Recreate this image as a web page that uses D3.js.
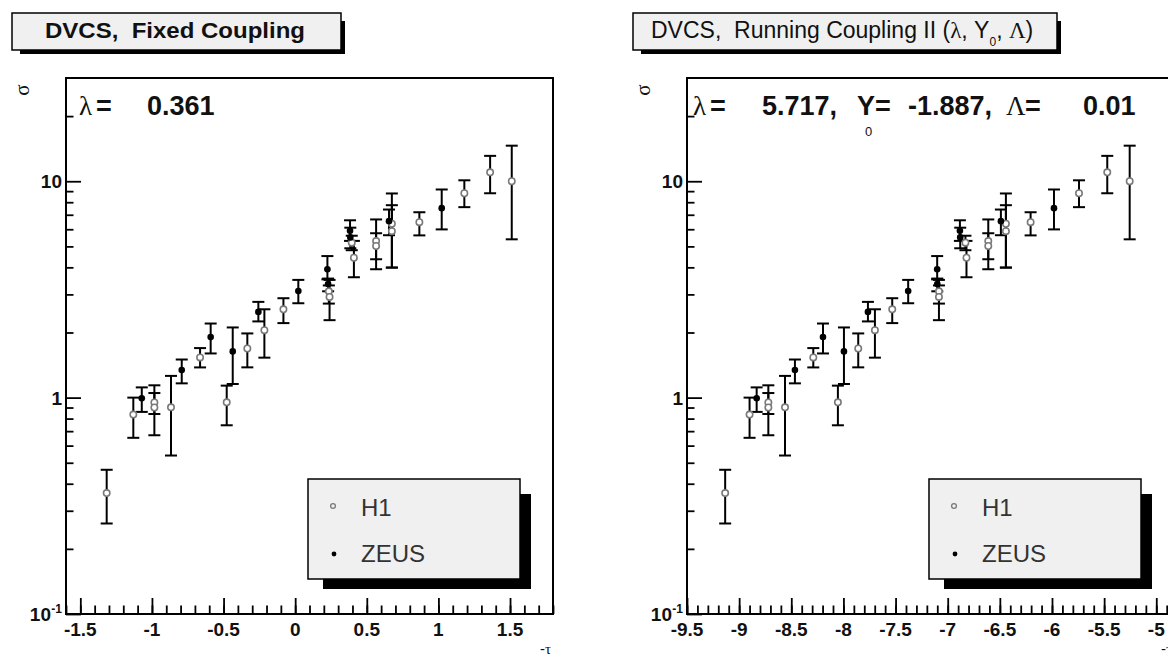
<!DOCTYPE html>
<html><head><meta charset="utf-8">
<script src="https://cdn.jsdelivr.net/npm/d3@7"></script>
<style>body{margin:0;background:#fff}svg{display:block}text{white-space:pre}</style>
</head><body>
<svg id="chart" width="1168" height="659"></svg>
<script>
// ---------- data ----------
const h1XFixed   = [-1.316,-1.13,-0.983,-0.983,-0.867,-0.664,-0.478,-0.334,-0.215,-0.082,0.235,0.24,0.395,0.41,0.565,0.565,0.675,0.675,0.867,1.181,1.361,1.512];
const h1XRunning = [-9.134,-8.90,-8.72,-8.72,-8.56,-8.289,-8.053,-7.858,-7.698,-7.532,-7.084,-7.084,-6.83,-6.82,-6.611,-6.611,-6.442,-6.442,-6.205,-5.741,-5.47,-5.255];
const h1Sigma    = [0.362,0.835,0.95,0.90,0.902,1.534,0.951,1.687,2.05,2.56,3.1,2.92,5.2,4.43,5.29,5.02,6.36,5.88,6.47,8.80,11.0,10.0];
const h1Low      = [0.262,0.652,0.84,0.67,0.54,1.379,0.745,1.38,1.53,2.21,2.72,2.28,4.8,3.6,4.36,3.92,3.99,3.99,5.62,7.59,8.8,5.39];
const h1High     = [0.464,1.0,1.14,1.05,1.26,1.694,1.136,1.98,2.56,2.88,3.3,3.5,5.6,5.3,5.75,6.66,8.78,7.75,7.19,10.1,13.1,14.6];

const zeusXFixed   = [-1.071,-0.792,-0.590,-0.436,-0.257,0.022,0.225,0.23,0.383,0.385,0.655,1.023];
const zeusXRunning = [-8.832,-8.465,-8.196,-7.995,-7.765,-7.379,-7.101,-7.10,-6.883,-6.88,-6.49,-5.981];
const zeusSigma    = [0.993,1.342,1.904,1.635,2.49,3.11,3.92,3.35,5.9,5.5,6.54,7.51];
const zeusLow      = [0.859,1.164,1.60,1.156,2.25,2.73,3.52,3.1,5.3,4.9,5.63,5.99];
const zeusHigh     = [1.115,1.50,2.20,2.11,2.77,3.5,4.51,3.55,6.6,6.1,7.4,9.16];

const yMajorTicks = [0.1, 1, 10];
const yTickBase   = ["10", "1", "10"];
const yTickExp    = ["-1", "", ""];
const xMajorFixed   = [-1.5,-1,-0.5,0,0.5,1,1.5];
const xMajorRunning = [-9.5,-9,-8.5,-8,-7.5,-7,-6.5,-6,-5.5,-5];
const legendLabels  = ["H1","ZEUS"];

// ---------- drawing ----------
const SANS = "'Liberation Sans', Arial, Helvetica, sans-serif";
const SERIF = "'Liberation Serif','DejaVu Serif',serif";
const svg = d3.select("#chart");
svg.append("rect").attr("width",1168).attr("height",659).attr("fill","#fff");

const panels = [
  {ox:0, xDomain:[-1.6,1.8], h1X:h1XFixed, zX:zeusXFixed, xMajor:xMajorFixed,
   titleW:329, kind:"fixed"},
  {ox:621, xDomain:[-9.5,-4.83], h1X:h1XRunning, zX:zeusXRunning, xMajor:xMajorRunning,
   titleW:424, kind:"running"}
];

panels.forEach(p => {
  const g = svg.append("g").attr("transform", `translate(${p.ox},0)`);
  const L = 66, T = 78, R = 553, B = 614;
  const x = d3.scaleLinear().domain(p.xDomain).range([L, R]);
  const y = d3.scaleLog().domain([0.1, 30]).range([B, T]);

  // title pave with shadow
  const tx = 12, ty = 13, th = 37;
  g.append("rect").attr("x", tx+8).attr("y", ty+8).attr("width", p.titleW-4).attr("height", th-4).attr("fill","#000");
  g.append("rect").attr("x", tx).attr("y", ty).attr("width", p.titleW).attr("height", th)
    .attr("fill","#f0f0f0").attr("stroke","#000").attr("stroke-width",1.5);
  if (p.kind === "fixed") {
    g.append("text").attr("x", 45).attr("y", 38).attr("font-family", SANS).attr("font-weight","bold")
      .attr("font-size", 22).attr("fill","#111").attr("textLength", 260).attr("lengthAdjust","spacingAndGlyphs")
      .text("DVCS,\u00a0 Fixed Coupling");
  } else {
    const t = g.append("text").attr("x", 30).attr("y", 38).attr("font-family", SANS)
      .attr("font-size", 23).attr("fill","#111");
    t.append("tspan").text("DVCS,\u00a0 Running Coupling II (");
    t.append("tspan").attr("font-family", SERIF).text("λ");
    t.append("tspan").text(",\u00a0Y");
    t.append("tspan").attr("font-size", 12).attr("dy", 8).text("0");
    t.append("tspan").attr("dy", -8).text(",\u00a0");
    t.append("tspan").attr("font-family", SERIF).text("Λ");
    t.append("tspan").text(")");
  }

  // frame
  g.append("rect").attr("x", L).attr("y", T).attr("width", R-L).attr("height", B-T)
    .attr("fill","none").attr("stroke","#000").attr("stroke-width",2);

  // y axis ticks (inward)
  const isMajor = v => Math.abs(Math.log10(v) - Math.round(Math.log10(v))) < 1e-6;
  const yMinor = y.ticks().filter(v => !isMajor(v) && v < 29);
  const styleAxis = a => { a.select(".domain").remove(); a.selectAll("line").attr("stroke","#000").attr("stroke-width",1.8); };
  g.append("g").attr("transform", `translate(${L},0)`)
    .call(d3.axisLeft(y).tickValues(yMinor).tickSize(-7.5).tickFormat(""))
    .call(styleAxis);
  g.append("g").attr("transform", `translate(${L},0)`)
    .call(d3.axisLeft(y).tickValues(yMajorTicks).tickSize(-15).tickFormat(""))
    .call(styleAxis);
  yMajorTicks.forEach((v, i) => {
    g.append("text").attr("x", L - 4 - (yTickExp[i] ? 11 : 0)).attr("y", y(v) + 7)
      .attr("text-anchor","end").attr("font-family", SANS).attr("font-weight","bold")
      .attr("font-size", 19).attr("fill","#111").text(yTickBase[i]);
    if (yTickExp[i]) {
      g.append("text").attr("x", L - 4).attr("y", y(v) - 1).attr("text-anchor","end")
        .attr("font-family", SANS).attr("font-weight","bold").attr("font-size", 12).attr("fill","#111")
        .text(yTickExp[i]);
    }
  });

  // x axis ticks (inward)
  const xMinor = d3.range(Math.ceil(p.xDomain[0]*10), Math.floor(p.xDomain[1]*10)+1).map(k => k/10);
  g.append("g").attr("transform", `translate(0,${B})`)
    .call(d3.axisBottom(x).tickValues(xMinor).tickSize(-8.5).tickFormat(""))
    .call(styleAxis);
  g.append("g").attr("transform", `translate(0,${B})`)
    .call(d3.axisBottom(x).tickValues(p.xMajor).tickSize(-16).tickFormat(""))
    .call(styleAxis);
  g.selectAll("text.xl").data(p.xMajor).enter().append("text").attr("class","xl")
    .attr("x", d => x(d)).attr("y", 636).attr("text-anchor","middle")
    .attr("font-family", SANS).attr("font-weight","bold").attr("font-size", 19).attr("fill","#111")
    .text(d => String(d));

  // axis titles
  const xt = g.append("text").attr("x", R - 2).attr("y", 654).attr("text-anchor","end")
    .attr("font-family", SANS).attr("font-size", 15).attr("fill","#111");
  xt.append("tspan").text("-");
  xt.append("tspan").attr("font-family", SERIF).text("τ");
  g.append("text").attr("transform", "translate(29,90) rotate(-90)").attr("text-anchor","middle")
    .attr("font-family", SERIF).attr("font-size", 21).attr("fill","#111").text("σ");

  // error bars
  const drawErr = (xs, vs, lo, hi) => {
    const eg = g.append("g").attr("stroke","#000").attr("stroke-width",2);
    xs.forEach((xv, i) => {
      const cx = x(xv), y1 = y(hi[i]), y2 = y(lo[i]);
      eg.append("line").attr("x1", cx).attr("x2", cx).attr("y1", y1).attr("y2", y2);
      eg.append("line").attr("x1", cx-6).attr("x2", cx+6).attr("y1", y1).attr("y2", y1);
      eg.append("line").attr("x1", cx-6).attr("x2", cx+6).attr("y1", y2).attr("y2", y2);
    });
  };
  drawErr(p.h1X, h1Sigma, h1Low, h1High);
  drawErr(p.zX, zeusSigma, zeusLow, zeusHigh);

  // markers
  g.selectAll("circle.h1").data(p.h1X).enter().append("circle").attr("class","h1")
    .attr("cx", d => x(d)).attr("cy", (d,i) => y(h1Sigma[i])).attr("r", 3.2)
    .attr("fill","#fff").attr("stroke","#7a7a7a").attr("stroke-width",1.6);
  g.selectAll("circle.zeus").data(p.zX).enter().append("circle").attr("class","zeus")
    .attr("cx", d => x(d)).attr("cy", (d,i) => y(zeusSigma[i])).attr("r", 3.3)
    .attr("fill","#000");

  // parameter text
  const ps = 27;
  const pt = (xx, txt, serif) => g.append("text").attr("x", xx).attr("y", 115)
    .attr("font-family", serif ? SERIF : SANS).attr("font-weight", serif ? "normal" : "bold")
    .attr("font-size", ps).attr("fill","#111").text(txt);
  if (p.kind === "fixed") {
    pt(79, "λ", true); pt(96, "="); pt(147, "0.361");
  } else {
    pt(72, "λ", true); pt(89, "="); pt(141, "5.717,");
    pt(236, "Y");
    g.append("text").attr("x", 244).attr("y", 136).attr("font-family", SANS).attr("font-size", 13)
      .attr("fill","#111").text("0");
    pt(254, "="); pt(287, "-1.887,"); pt(385, "Λ", true); pt(404, "="); pt(462, "0.01");
  }

  // legend
  const lx = 308, ly = 479, lw = 212, lh = 100;
  g.append("rect").attr("x", lx+15).attr("y", ly+15).attr("width", lw-4).attr("height", lh-5).attr("fill","#000");
  g.append("rect").attr("x", lx).attr("y", ly).attr("width", lw).attr("height", lh)
    .attr("fill","#f0f0f0").attr("stroke","#000").attr("stroke-width",1.5);
  g.append("circle").attr("cx", lx+25).attr("cy", ly+27).attr("r", 2.4)
    .attr("fill","none").attr("stroke","#7a7a7a").attr("stroke-width",1.3);
  g.append("circle").attr("cx", lx+26).attr("cy", ly+75).attr("r", 2.4).attr("fill","#000");
  legendLabels.forEach((lab, i) => {
    g.append("text").attr("x", lx+53).attr("y", ly+37+i*46).attr("font-family", SANS)
      .attr("font-size", 24).attr("fill","#333").text(lab);
  });
});
</script>
</body></html>
